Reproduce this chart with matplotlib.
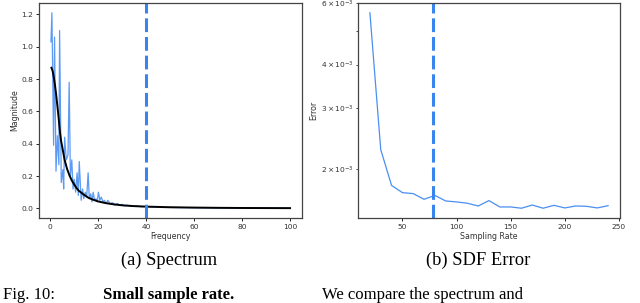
import matplotlib
matplotlib.use("Agg")
import matplotlib.pyplot as plt

# ---- data: (a) Spectrum ----
spec_freq = [0.3, 0.7, 1.4, 1.8, 2.4, 3.0, 3.6, 3.9, 4.6, 5.3, 5.6, 6.0, 6.7, 7.4, 7.9,
             8.4, 9.0, 9.5, 10.0, 10.6, 11.2, 11.7, 12.1, 12.6, 12.9, 13.5, 14.0, 14.6,
             15.2, 15.8, 16.3, 16.9, 17.4, 17.9, 18.5, 19.1, 19.6, 20.1, 20.7, 21.3,
             22.0, 22.6, 23.3, 24.0, 25, 26, 27, 28, 29, 30, 31, 32, 34, 36, 38, 40,
             42, 44, 46, 50, 55, 60, 70, 80, 90, 100]
spec_mag = [1.03, 1.21, 0.39, 1.06, 0.23, 0.45, 0.27, 1.10, 0.16, 0.24, 0.12, 0.44, 0.30,
            0.33, 0.78, 0.20, 0.30, 0.12, 0.18, 0.10, 0.22, 0.08, 0.29, 0.14, 0.05, 0.12,
            0.06, 0.10, 0.07, 0.22, 0.06, 0.09, 0.04, 0.10, 0.05, 0.06, 0.04, 0.10, 0.05,
            0.07, 0.04, 0.05, 0.03, 0.05, 0.03, 0.035, 0.02, 0.03, 0.02, 0.025, 0.015,
            0.02, 0.012, 0.015, 0.01, 0.012, 0.008, 0.01, 0.006, 0.006, 0.005, 0.004,
            0.003, 0.002, 0.002, 0.001]
fit_freq = [0.5, 1, 1.5, 2, 2.5, 3, 3.5, 4, 4.5, 5, 5.5, 6, 7, 8, 9, 10, 11, 12, 14, 16,
            18, 20, 23, 26, 30, 35, 40, 50, 60, 70, 80, 90, 100]
fit_mag = [0.87, 0.85, 0.81, 0.76, 0.70, 0.63, 0.56, 0.48, 0.42, 0.38, 0.34, 0.30, 0.245,
           0.205, 0.172, 0.148, 0.125, 0.108, 0.085, 0.065, 0.053, 0.043, 0.033, 0.026,
           0.019, 0.014, 0.011, 0.007, 0.005, 0.0035, 0.0025, 0.002, 0.0015]
spec_cut = 40

# ---- data: (b) SDF Error ----
rate = [20, 30, 40, 50, 60, 70, 80, 90, 100, 110, 120, 130, 140, 150, 160, 170, 180,
        190, 200, 210, 220, 230, 240]
error = [5.63e-3, 2.28e-3, 1.80e-3, 1.716e-3, 1.705e-3, 1.642e-3, 1.685e-3, 1.624e-3,
         1.614e-3, 1.60e-3, 1.571e-3, 1.628e-3, 1.561e-3, 1.561e-3, 1.548e-3, 1.581e-3,
         1.548e-3, 1.578e-3, 1.551e-3, 1.571e-3, 1.568e-3, 1.551e-3, 1.574e-3]
rate_cut = 78

captions = ["(a) Spectrum", "(b) SDF Error"]

blue = "#4a8ff2"
dash_blue = "#3a84ee"

fig = plt.figure(figsize=(6.4, 3.03), dpi=100)
W, H = 640, 303

def ax_rect(l, t, r, b):
    return [l / W, 1 - b / H, (r - l) / W, (b - t) / H]

ax1 = fig.add_axes(ax_rect(39, 3, 302, 218))
ax2 = fig.add_axes(ax_rect(358, 3, 620, 218))

tick_fs = 5.4
lab_fs = 5.7
tick_col = "#333333"

ax1.plot(spec_freq, spec_mag, color=blue, lw=0.9, alpha=0.9)
ax1.plot(fit_freq, fit_mag, color="black", lw=1.4)
ax1.axvline(spec_cut, color=dash_blue, lw=2.2, linestyle=(0, (4.5, 1.6)))
ax1.set_xlabel("Frequency", fontsize=lab_fs, labelpad=2, color=tick_col)
ax1.set_ylabel("Magnitude", fontsize=lab_fs, labelpad=2, color=tick_col)
ax1.set_xticks([0, 20, 40, 60, 80, 100])
ax1.set_yticks([0.0, 0.2, 0.4, 0.6, 0.8, 1.0, 1.2])
ax1.tick_params(labelsize=tick_fs, length=2.5, width=0.6, pad=1.5, labelcolor=tick_col)

ax2.plot(rate, error, color=blue, lw=0.9)
ax2.axvline(rate_cut, color=dash_blue, lw=2.2, linestyle=(0, (4.5, 1.6)))
ax2.set_yscale("log")
ax2.set_xlabel("Sampling Rate", fontsize=lab_fs, labelpad=2, color=tick_col)
ax2.set_ylabel("Error", fontsize=lab_fs, labelpad=2, color=tick_col)
ax2.set_xticks([50, 100, 150, 200, 250])
ax2.tick_params(labelsize=tick_fs, length=2.5, width=0.6, pad=1.5, labelcolor=tick_col)
ax2.tick_params(which="minor", labelsize=tick_fs, length=1.5, width=0.5, pad=1.5,
                labelcolor=tick_col)

for ax in (ax1, ax2):
    for s in ax.spines.values():
        s.set_color("#444444")
        s.set_linewidth(0.9)

serif = ["Liberation Serif", "DejaVu Serif"]
fig.text(169 / W, 1 - 260 / H, captions[0], fontsize=13.3, family=serif,
         ha="center", va="center")
fig.text(478 / W, 1 - 260 / H, captions[1], fontsize=13.3, family=serif,
         ha="center", va="center")

# figure caption line along the bottom edge
cap_y = 4 / H
cap_fs = 12
fig.text(3 / W, cap_y, "Fig. 10:", fontsize=cap_fs, family=serif, va="baseline")
fig.text(103 / W, cap_y, "Small sample rate.", fontsize=cap_fs, family=serif,
         weight="bold", va="baseline")
fig.text(322 / W, cap_y, "We compare the spectrum and", fontsize=cap_fs,
         family=serif, va="baseline")

fig.savefig("out.png", dpi=100)
